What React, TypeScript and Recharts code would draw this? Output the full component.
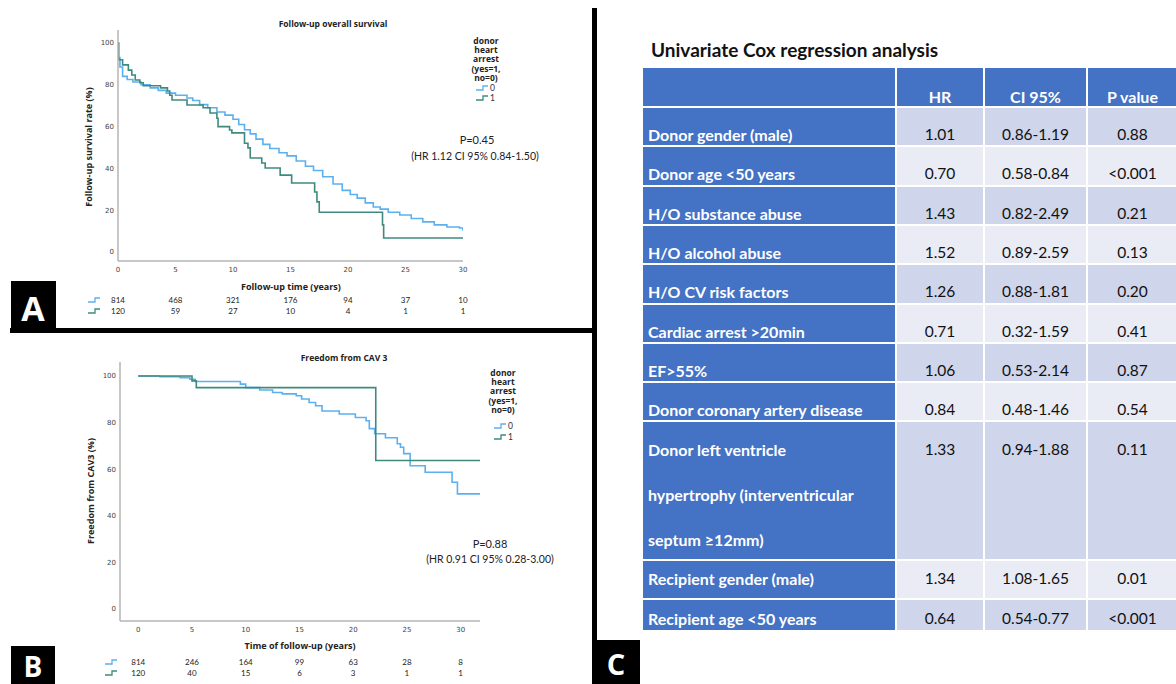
import React from 'react';
import { LineChart, Line, XAxis, YAxis } from 'recharts';

// Panel A: follow-up overall survival (years, % surviving)
const osTime0 = [0, 0.05, 0.17, 0.4, 0.8, 1.3, 2, 2.8, 3.5, 4.2, 5, 6, 6.5, 7.1, 7.8, 8.6, 9.3, 10, 10.5, 11, 11.5, 12, 12.6, 13.2, 14, 14.7, 15.5, 16.3, 17, 17.8, 18.7, 19.5, 20.2, 20.8, 21.5, 22.2, 22.8, 23.5, 24.5, 25.5, 26.5, 27.5, 28.6, 29.7, 30];
const osSurv0 = [100, 93, 88.5, 84, 82.5, 81.3, 80, 78.5, 77.3, 76, 75, 73.7, 72.5, 70.5, 69, 67, 65.5, 63.5, 61, 58.5, 56.5, 54, 51.5, 49.5, 47.5, 46, 43.5, 41, 39, 36, 32.5, 29.5, 27.5, 25.8, 23.5, 21.5, 20.5, 19, 17.7, 16, 14.4, 13, 12, 11.5, 10];
const osTime1 = [0, 0.05, 0.4, 0.9, 1.2, 1.5, 1.9, 2.2, 3.7, 4.3, 4.5, 4.7, 6, 7.4, 8, 8.6, 8.7, 9.7, 9.9, 11, 11.3, 11.5, 12.5, 12.8, 14.1, 15.1, 17.1, 17.3, 17.5, 23, 23.1, 30];
const osSurv1 = [100, 92, 89.5, 87, 84.7, 82.3, 81, 79.5, 78.5, 77, 75, 72.7, 70.3, 69, 66.5, 64, 60, 58.4, 57, 52, 49.8, 45, 42.6, 40.2, 36.8, 33, 28.7, 24, 19, 13, 6.7, 6.7];
const osRisk0 = [814, 468, 321, 176, 94, 37, 10];
const osRisk1 = [120, 59, 27, 10, 4, 1, 1];

// Panel B: freedom from CAV 3
const cavTime0 = [0, 2, 3.9, 4.8, 5.3, 9.5, 10, 11.3, 12.5, 13.4, 14.7, 15.2, 15.9, 16.5, 17.1, 18.7, 20.2, 21.2, 21.5, 22, 23, 24.1, 24.4, 24.7, 25.3, 26.7, 29.2, 29.7, 31.8];
const cavSurv0 = [100, 99.7, 99.3, 98.6, 97.6, 96.5, 95, 94, 92.9, 92.3, 91.5, 90.1, 88.6, 87.2, 85, 83.7, 82.2, 80.8, 77.4, 75.2, 73.5, 70.9, 69.4, 66.7, 61.5, 58.7, 54.4, 49.4, 49.4];
const cavTime1 = [0, 5.0, 5.4, 22.1, 31.8];
const cavSurv1 = [100, 97.9, 95, 63.7, 63.7];
const cavRisk0 = [814, 246, 164, 99, 63, 28, 8];
const cavRisk1 = [120, 40, 15, 6, 3, 1, 1];

const timeTicks = [0, 5, 10, 15, 20, 25, 30];
const pctTicks = [0, 20, 40, 60, 80, 100];

// Panel C: univariate Cox regression
const coxHeader = ['', 'HR', 'CI 95%', 'P value'];
const coxVariables = [
  'Donor gender (male)',
  'Donor age <50 years',
  'H/O substance abuse',
  'H/O alcohol abuse',
  'H/O CV risk factors',
  'Cardiac arrest >20min',
  'EF>55%',
  'Donor coronary artery disease',
  'Donor left ventricle\nhypertrophy (interventricular\nseptum \u226512mm)',
  'Recipient gender (male)',
  'Recipient age <50 years',
];
const coxHR = ['1.01', '0.70', '1.43', '1.52', '1.26', '0.71', '1.06', '0.84', '1.33', '1.34', '0.64'];
const coxCI = ['0.86-1.19', '0.58-0.84', '0.82-2.49', '0.89-2.59', '0.88-1.81', '0.32-1.59', '0.53-2.14', '0.48-1.46', '0.94-1.88', '1.08-1.65', '0.54-0.77'];
const coxP = ['0.88', '<0.001', '0.21', '0.13', '0.20', '0.41', '0.87', '0.54', '0.11', '0.01', '<0.001'];

const BLUE = '#5cb0ee';
const TEAL = '#3f8a7e';
const AXIS = '#b5b5b5';
const SANS = '"Open Sans", "DejaVu Sans", sans-serif';
const CAL = 'Lato, "Open Sans", sans-serif';

const steps = (t: number[], s: number[]) => t.map((x, i) => ({ t: x, s: s[i] }));

type KMProps = {
  width: number;
  height: number;
  margin: { top: number; right: number; bottom: number; left: number };
  xDomain: [number, number];
  yDomain: [number, number];
  g0: { t: number; s: number }[];
  g1: { t: number; s: number }[];
  risk0: number[];
  risk1: number[];
  xAxisHeight: number;
};

const KMChart: React.FC<KMProps> = ({ width, height, margin, xDomain, yDomain, g0, g1, risk0, risk1, xAxisHeight }) => {
  const riskTick = (arr: number[]) => (v: number) => String(arr[timeTicks.indexOf(v)] ?? '');
  return (
    <LineChart width={width} height={height} margin={margin}>
      <XAxis
        type="number"
        dataKey="t"
        domain={xDomain}
        ticks={timeTicks}
        allowDataOverflow
        interval={0}
        height={xAxisHeight}
        tickSize={0}
        tickMargin={6.5}
        tickLine={false}
        axisLine={{ stroke: AXIS, strokeWidth: 1.5 }}
        tick={{ fontSize: 7, fill: '#444', fontFamily: 'DejaVu Sans' }}
      />
      <XAxis
        xAxisId="r0"
        type="number"
        dataKey="t"
        domain={xDomain}
        ticks={timeTicks}
        allowDataOverflow
        interval={0}
        height={11}
        tickSize={0}
        tickMargin={8}
        tickLine={false}
        axisLine={false}
        tickFormatter={riskTick(risk0)}
        tick={{ fontSize: 8, fill: '#222', fontFamily: CAL }}
      />
      <XAxis
        xAxisId="r1"
        type="number"
        dataKey="t"
        domain={xDomain}
        ticks={timeTicks}
        allowDataOverflow
        interval={0}
        height={11}
        tickSize={0}
        tickMargin={8}
        tickLine={false}
        axisLine={false}
        tickFormatter={riskTick(risk1)}
        tick={{ fontSize: 8, fill: '#222', fontFamily: CAL }}
      />
      <YAxis
        type="number"
        domain={yDomain}
        ticks={pctTicks}
        allowDataOverflow
        interval={0}
        width={30}
        tickSize={0}
        tickMargin={4}
        tickLine={false}
        axisLine={{ stroke: AXIS, strokeWidth: 1.5 }}
        tick={{ fontSize: 7, fill: '#444', fontFamily: 'DejaVu Sans' }}
      />
      <Line data={g0} dataKey="s" type="stepAfter" stroke={BLUE} strokeWidth={1.6} dot={false} isAnimationActive={false} />
      <Line data={g1} dataKey="s" type="stepAfter" stroke={TEAL} strokeWidth={1.6} dot={false} isAnimationActive={false} />
    </LineChart>
  );
};

const StepIcon = ({ x, y, color }: { x: number; y: number; color: string }) => (
  <polyline points={`${x},${y + 2} ${x + 7},${y + 2} ${x + 7},${y - 2} ${x + 12},${y - 2}`} fill="none" stroke={color} strokeWidth={1.3} />
);

const LegendBlock = ({ cx, y0, iconX, entryY }: { cx: number; y0: number; iconX: number; entryY: number[] }) => (
  <g>
    {['donor', 'heart', 'arrest', '(yes=1,', 'no=0)'].map((l, i) => (
      <text key={l} x={cx} y={y0 + i * 9.4} textAnchor="middle" dominantBaseline="central" fontFamily={SANS} fontWeight={700} fontSize={8.5} fill="#222">
        {l}
      </text>
    ))}
    <StepIcon x={iconX} y={entryY[0]} color={BLUE} />
    <StepIcon x={iconX} y={entryY[1]} color={TEAL} />
    <text x={iconX + 14} y={entryY[0]} dominantBaseline="central" fontFamily={CAL} fontSize={8.5} fill="#333">0</text>
    <text x={iconX + 14} y={entryY[1]} dominantBaseline="central" fontFamily={CAL} fontSize={8.5} fill="#333">1</text>
  </g>
);

const colEdges = [642, 896, 984, 1087, 1178];
const rowEdges = [67, 107, 146, 186, 225, 264, 304, 343, 382, 421, 560, 599, 631];
const textLine = [96, 134, 173, 213, 252, 291, 331, 370, 409, 449, 578, 618];
const LH = 45;

const CoxTable = () => {
  const rows = [coxHeader, ...coxVariables.map((v, i) => [v, coxHR[i], coxCI[i], coxP[i]])];
  return (
    <div>
      {rows.map((cells, r) => {
        const top = rowEdges[r];
        const h = rowEdges[r + 1] - top;
        const dataBg = r % 2 === 1 ? '#cfd5ea' : '#e9ebf5';
        return cells.map((c, ci) => {
          const left = colEdges[ci];
          const w = colEdges[ci + 1] - left;
          const blue = r === 0 || ci === 0;
          return (
            <div
              key={`${r}-${ci}`}
              style={{
                position: 'absolute',
                left: left + 1,
                top: top + 1,
                width: w - 2,
                height: h - 2,
                background: blue ? '#4472c4' : dataBg,
                overflow: 'hidden',
              }}
            >
              <div
                style={{
                  position: 'absolute',
                  top: textLine[r] - top - 1 - LH / 2,
                  left: ci === 0 ? 5 : 0,
                  width: ci === 0 ? w + 40 : w - 2,
                  textAlign: ci === 0 ? 'left' : 'center',
                  lineHeight: `${LH}px`,
                  whiteSpace: 'pre-line',
                  fontFamily: CAL,
                  fontSize: blue ? 16 : 15.5,
                  fontWeight: blue ? 700 : 400,
                  color: blue ? '#fff' : '#111',
                }}
              >
                {c}
              </div>
            </div>
          );
        });
      })}
    </div>
  );
};

export default function App() {
  return (
    <div style={{ position: 'absolute', left: 0, top: 0, width: 1176, height: 684, background: '#fff', overflow: 'hidden' }}>
      <div style={{ position: 'absolute', left: 0, top: 0 }}>
        <KMChart
          width={600}
          height={340}
          margin={{ top: 30, right: 137, bottom: 29, left: 88 }}
          xDomain={[0, 30]}
          yDomain={[-4.3, 106.2]}
          g0={steps(osTime0, osSurv0)}
          g1={steps(osTime1, osSurv1)}
          risk0={osRisk0}
          risk1={osRisk1}
          xAxisHeight={28}
        />
      </div>
      <div style={{ position: 'absolute', left: 0, top: 335 }}>
        <KMChart
          width={600}
          height={349}
          margin={{ top: 27, right: 120, bottom: 11, left: 90 }}
          xDomain={[-1.7, 31.8]}
          yDomain={[-5.15, 106]}
          g0={steps(cavTime0, cavSurv0)}
          g1={steps(cavTime1, cavSurv1)}
          risk0={cavRisk0}
          risk1={cavRisk1}
          xAxisHeight={30}
        />
      </div>

      <svg width={1176} height={684} style={{ position: 'absolute', left: 0, top: 0, pointerEvents: 'none' }}>
        {/* Panel A texts */}
        <text x={333} y={23} textAnchor="middle" dominantBaseline="central" fontFamily={SANS} fontWeight={700} fontSize={8.5} fill="#222">Follow-up overall survival</text>
        <text x={88} y={147} transform="rotate(-90 88 147)" textAnchor="middle" dominantBaseline="central" fontFamily={SANS} fontWeight={700} fontSize={9} fill="#222">Follow-up survival rate (%)</text>
        <text x={291} y={286} textAnchor="middle" dominantBaseline="central" fontFamily={SANS} fontWeight={700} fontSize={9} fill="#222">Follow-up time (years)</text>
        <LegendBlock cx={486} y0={40} iconX={476} entryY={[88, 98]} />
        <text x={477} y={139} textAnchor="middle" dominantBaseline="central" fontFamily={CAL} fontSize={11} fill="#222">P=0.45</text>
        <text x={475} y={156} textAnchor="middle" dominantBaseline="central" fontFamily={CAL} fontSize={10.5} fill="#222">(HR 1.12 CI 95% 0.84-1.50)</text>
        <StepIcon x={88} y={300} color={BLUE} />
        <StepIcon x={88} y={311} color={TEAL} />

        {/* Panel B texts */}
        <text x={344} y={357} textAnchor="middle" dominantBaseline="central" fontFamily={SANS} fontWeight={700} fontSize={8.5} fill="#222">Freedom from CAV 3</text>
        <text x={90} y={491} transform="rotate(-90 90 491)" textAnchor="middle" dominantBaseline="central" fontFamily={SANS} fontWeight={700} fontSize={9} fill="#222">Freedom from CAV3 (%)</text>
        <text x={300} y={645} textAnchor="middle" dominantBaseline="central" fontFamily={SANS} fontWeight={700} fontSize={9} fill="#222">Time of follow-up (years)</text>
        <LegendBlock cx={503} y0={372} iconX={494} entryY={[426, 437]} />
        <text x={490} y={543} textAnchor="middle" dominantBaseline="central" fontFamily={CAL} fontSize={11} fill="#222">P=0.88</text>
        <text x={490} y={559} textAnchor="middle" dominantBaseline="central" fontFamily={CAL} fontSize={10.5} fill="#222">(HR 0.91 CI 95% 0.28-3.00)</text>
        <StepIcon x={105} y={662} color={BLUE} />
        <StepIcon x={105} y={673} color={TEAL} />

        {/* frame and panel letters */}
        <rect x={10} y={328} width={587} height={5} fill="#000" />
        <rect x={592} y={8} width={5} height={676} fill="#000" />
        <rect x={11} y={281} width={45} height={50} fill="#000" />
        <text x={33} y={308} textAnchor="middle" dominantBaseline="central" fontFamily={SANS} fontWeight={700} fontSize={34} fill="#fff">A</text>
        <rect x={11} y={646} width={44} height={40} fill="#000" />
        <text x={33} y={666} textAnchor="middle" dominantBaseline="central" fontFamily={SANS} fontWeight={700} fontSize={28} fill="#fff">B</text>
        <rect x={592} y={640} width={48} height={46} fill="#000" />
        <text x={616} y={663} textAnchor="middle" dominantBaseline="central" fontFamily={SANS} fontWeight={700} fontSize={29} fill="#fff">C</text>

        {/* Panel C title */}
        <text x={651} y={49} dominantBaseline="central" fontFamily={CAL} fontWeight={700} fontSize={19} fill="#111">Univariate Cox regression analysis</text>
      </svg>

      <CoxTable />
    </div>
  );
}
